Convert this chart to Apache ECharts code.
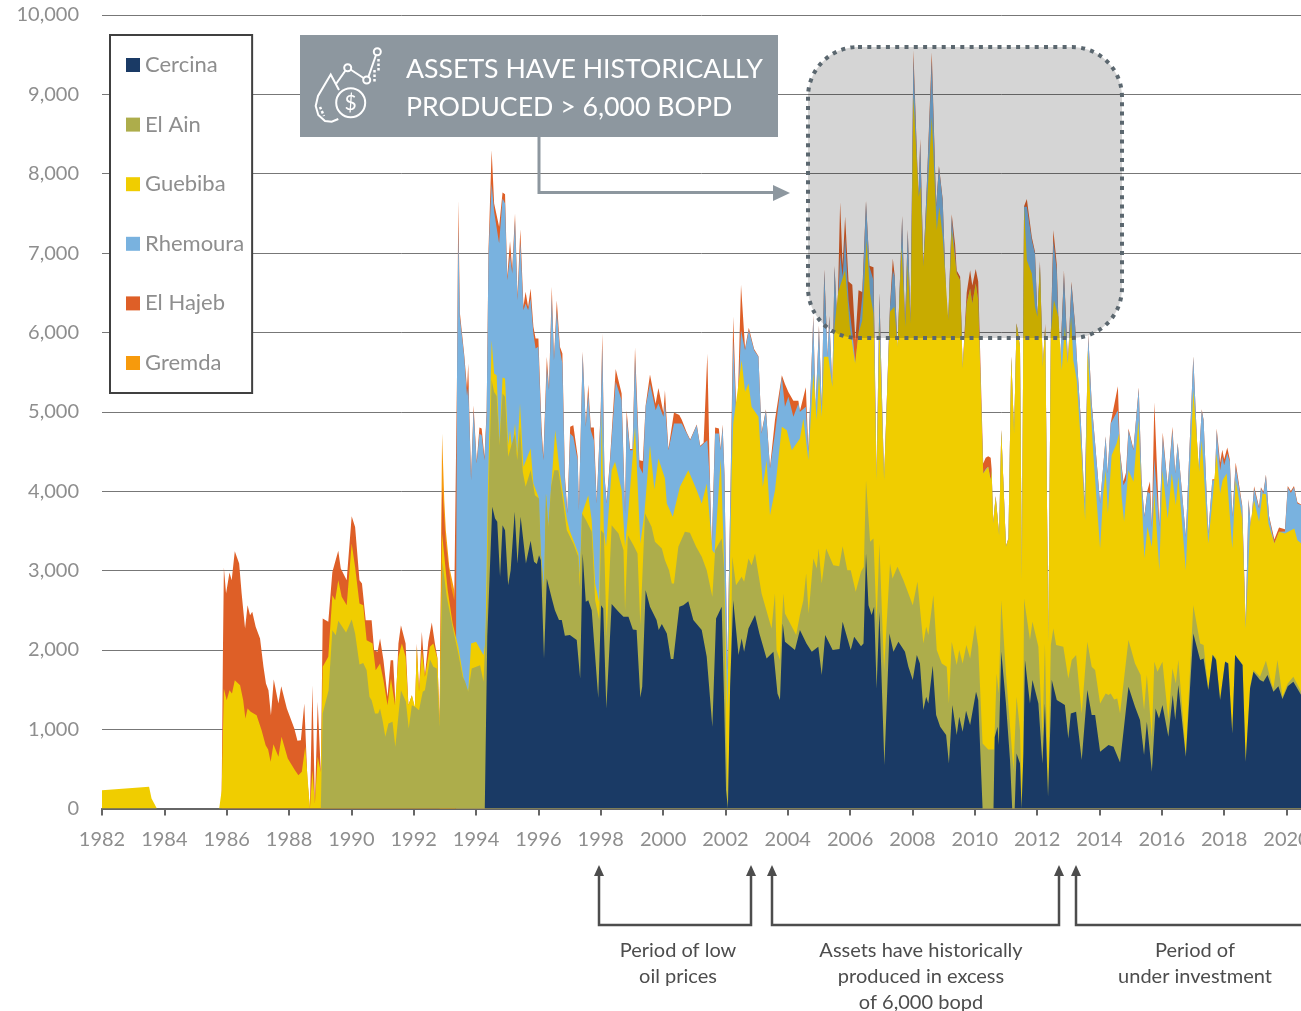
<!DOCTYPE html>
<html lang="en">
<head>
    <meta charset="UTF-8">
    <title>Production history</title>
    <style>
      html, body { margin: 0; padding: 0; background: #fff; }
    </style>
</head>
<body>

    <div id="main" style="width: 1301px; height: 1011px;"></div>
    <script src="https://cdn.jsdelivr.net/npm/echarts@6/dist/echarts.min.js"></script>
    <script>
      const cercinaTop = [[1994.28,0],[1994.36,2164],[1994.52,3802],[1994.61,3655],[1994.68,3613],[1994.77,2920],[1994.85,3571],[1994.93,3508],[1995.03,2815],[1995.11,3004],[1995.24,3739],[1995.33,3088],[1995.43,3676],[1995.6,3088],[1995.75,3374],[1995.86,3109],[1995.95,3080],[1996.02,3193],[1996.08,3130],[1996.18,1891],[1996.27,2899],[1996.43,2647],[1996.53,2500],[1996.66,2374],[1996.75,2374],[1996.85,2177],[1997.01,2185],[1997.23,2122],[1997.34,1639],[1997.42,3214],[1997.52,2605],[1997.6,2626],[1997.71,2500],[1997.92,1395],[1998.01,2563],[1998.08,2521],[1998.18,1261],[1998.35,2576],[1998.57,2479],[1998.73,2416],[1998.89,2416],[1999.03,2256],[1999.15,2248],[1999.27,1400],[1999.33,1534],[1999.44,2752],[1999.58,2542],[1999.79,2374],[1999.86,2248],[1999.96,2324],[2000.12,2206],[2000.25,1883],[2000.33,1883],[2000.52,2542],[2000.65,2563],[2000.81,2613],[2000.97,2374],[2001.24,2248],[2001.4,1912],[2001.58,1030],[2001.7,2395],[2001.88,2542],[2001.96,1324],[2002.02,232],[2002.08,0],[2002.15,1534],[2002.25,2626],[2002.42,1933],[2002.52,2143],[2002.6,1975],[2002.74,2269],[2002.95,2437],[2003.09,2206],[2003.32,1891],[2003.54,1975],[2003.67,1450],[2003.75,1366],[2003.84,2332],[2003.91,2101],[2004.23,1996],[2004.39,2248],[2004.6,2080],[2004.77,1975],[2004.98,2038],[2005.09,1681],[2005.2,2185],[2005.44,1996],[2005.66,2009],[2005.76,2353],[2006.02,1996],[2006.13,2164],[2006.35,2046],[2006.43,2080],[2006.51,3214],[2006.59,2563],[2006.69,2437],[2006.77,2542],[2006.85,1513],[2006.94,2479],[2007.1,547],[2007.26,2206],[2007.39,1975],[2007.55,2101],[2007.76,1975],[2007.87,1786],[2007.92,1786],[2008.01,1618],[2008.14,1933],[2008.24,1828],[2008.35,1240],[2008.44,1408],[2008.51,1324],[2008.65,1799],[2008.76,1177],[2008.89,1030],[2009.08,925],[2009.17,568],[2009.28,1303],[2009.42,925],[2009.5,1156],[2009.61,967],[2009.72,1232],[2009.85,1051],[2010.04,1471],[2010.11,1366],[2010.25,0],[2010.6,0],[2010.64,900],[2010.73,1030],[2010.77,799],[2010.85,1975],[2011.0,1324],[2011.13,610],[2011.2,0],[2011.28,0],[2011.34,694],[2011.45,568],[2011.5,0],[2011.56,694],[2011.61,1870],[2011.77,1324],[2011.85,1618],[2012.04,1324],[2012.17,568],[2012.25,1324],[2012.35,148],[2012.47,1618],[2012.63,1366],[2012.89,1303],[2013.0,883],[2013.08,1198],[2013.25,1219],[2013.43,610],[2013.61,1492],[2013.75,1177],[2013.86,1177],[2014.02,715],[2014.29,799],[2014.45,778],[2014.66,581],[2014.93,1534],[2015.14,1282],[2015.3,1114],[2015.43,673],[2015.52,1093],[2015.68,463],[2015.8,1261],[2015.91,1135],[2016.02,1303],[2016.21,904],[2016.35,1429],[2016.43,1114],[2016.53,1555],[2016.77,652],[2017.01,2206],[2017.23,1870],[2017.34,1891],[2017.49,1492],[2017.63,1933],[2017.74,1870],[2017.87,1366],[2018.03,1849],[2018.13,1828],[2018.26,946],[2018.35,1933],[2018.59,1807],[2018.69,589],[2018.83,1513],[2018.94,1723],[2019.15,1618],[2019.26,1597],[2019.39,1681],[2019.58,1471],[2019.74,1542],[2019.87,1379],[2020.04,1542],[2020.22,1597],[2020.47,1429]];

      const elAinTop = [[1989.02,0],[1989.08,1197],[1989.27,1491],[1989.39,2247],[1989.5,2184],[1989.58,2365],[1989.83,2218],[1990.01,2381],[1990.12,2205],[1990.26,1814],[1990.38,1835],[1990.49,1743],[1990.58,1407],[1990.65,1365],[1990.76,1197],[1990.86,1197],[1990.92,1260],[1991.0,1113],[1991.09,903],[1991.19,1071],[1991.32,1092],[1991.41,777],[1991.59,1491],[1991.75,1344],[1991.84,1008],[1991.94,1302],[1992.04,1281],[1992.17,1239],[1992.29,1470],[1992.36,1491],[1992.52,1881],[1992.63,1785],[1992.74,1764],[1992.83,1029],[1992.92,3108],[1993.06,2667],[1993.27,2247],[1993.43,1953],[1993.57,1659],[1993.65,1596],[1993.75,1470],[1993.86,1764],[1994.13,1806],[1994.24,1596],[1994.34,2542],[1994.39,3802],[1994.5,5400],[1994.58,5250],[1994.66,5200],[1994.75,4579],[1994.85,5230],[1994.93,5190],[1995.03,4432],[1995.12,4560],[1995.25,4726],[1995.32,4390],[1995.41,4810],[1995.5,4240],[1995.59,4054],[1995.75,4264],[1995.89,3949],[1996.02,3907],[1996.08,3214],[1996.18,2752],[1996.24,3970],[1996.32,3550],[1996.41,4054],[1996.51,4264],[1996.64,4264],[1996.8,3844],[1996.91,3508],[1997.12,3340],[1997.28,3172],[1997.33,2794],[1997.4,3718],[1997.53,3634],[1997.71,3487],[1997.82,2626],[1997.95,2374],[1998.01,3508],[1998.1,3466],[1998.19,2164],[1998.35,3571],[1998.57,3466],[1998.73,3256],[1998.78,2500],[1998.87,3445],[1999.05,3319],[1999.18,3214],[1999.27,2311],[1999.42,3718],[1999.63,3550],[1999.74,3361],[1999.96,3277],[2000.06,3130],[2000.19,3004],[2000.28,2836],[2000.35,2836],[2000.49,3298],[2000.7,3487],[2000.86,3474],[2001.06,3298],[2001.24,3172],[2001.4,3004],[2001.58,2668],[2001.67,3256],[2001.88,3403],[2001.96,3004],[2002.02,946],[2002.08,50],[2002.15,1324],[2002.22,3172],[2002.34,2815],[2002.52,2920],[2002.6,2857],[2002.74,3151],[2002.84,3067],[2002.95,3214],[2003.16,2710],[2003.48,2269],[2003.59,2710],[2003.64,1996],[2003.75,1870],[2003.86,2710],[2003.91,2458],[2004.27,2185],[2004.39,2437],[2004.5,2626],[2004.59,2962],[2004.67,2458],[2004.82,3151],[2004.93,3025],[2004.99,3277],[2005.09,2836],[2005.23,3277],[2005.46,3067],[2005.65,3054],[2005.76,3306],[2005.91,3004],[2006.02,3004],[2006.18,2731],[2006.35,2983],[2006.44,3046],[2006.51,4138],[2006.64,3361],[2006.75,3403],[2006.85,2332],[2006.94,3340],[2007.09,1744],[2007.28,3088],[2007.36,2899],[2007.52,3046],[2007.71,2878],[2007.87,2710],[2008.01,2563],[2008.16,2857],[2008.35,2080],[2008.44,2290],[2008.51,2185],[2008.67,2689],[2008.78,1996],[2008.94,1828],[2009.1,1786],[2009.17,1324],[2009.26,2101],[2009.42,1807],[2009.5,1996],[2009.61,1828],[2009.73,2059],[2009.85,1891],[2010.01,2311],[2010.11,2038],[2010.25,820],[2010.43,744],[2010.62,744],[2010.7,1702],[2010.77,1450],[2010.85,2626],[2011.0,1702],[2011.24,484],[2011.34,1408],[2011.45,988],[2011.51,0],[2011.55,800],[2011.58,2647],[2011.77,2122],[2011.85,2353],[2012.04,2038],[2012.17,904],[2012.25,2080],[2012.35,148],[2012.44,2059],[2012.52,2269],[2012.61,2059],[2012.84,2038],[2013.0,1639],[2013.11,1870],[2013.25,1933],[2013.43,1198],[2013.61,2101],[2013.75,1786],[2013.86,1744],[2014.02,1324],[2014.2,1450],[2014.29,1429],[2014.36,1450],[2014.47,1374],[2014.57,1387],[2014.66,1198],[2014.93,2122],[2015.14,1828],[2015.32,1681],[2015.43,1240],[2015.52,1681],[2015.68,904],[2015.76,1849],[2015.86,1723],[2016.02,1849],[2016.21,1114],[2016.34,1765],[2016.45,1576],[2016.53,1870],[2016.77,694],[2017.01,2563],[2017.23,2080],[2017.34,2059],[2017.49,1492],[2017.63,1945],[2017.74,1891],[2017.87,1366],[2018.03,1857],[2018.13,1836],[2018.26,946],[2018.35,1941],[2018.59,1815],[2018.69,589],[2018.83,1534],[2018.94,1744],[2019.15,1660],[2019.34,1862],[2019.52,1576],[2019.58,1513],[2019.71,1870],[2019.87,1408],[2020.04,1576],[2020.22,1660],[2020.47,1471]];

      const guebibaTop = [[1982,230],[1983.51,273],[1983.59,126],[1983.76,0],[1985.76,0],[1985.84,230],[1985.91,1510],[1986,1365],[1986.09,1490],[1986.17,1450],[1986.26,1617],[1986.43,1554],[1986.53,1365],[1986.6,1134],[1986.67,1260],[1986.77,1218],[1986.96,1176],[1987.12,987],[1987.25,798],[1987.33,743],[1987.41,588],[1987.5,810],[1987.66,651],[1987.76,903],[1987.96,630],[1988.19,483],[1988.3,420],[1988.41,462],[1988.52,777],[1988.67,0],[1988.75,483],[1988.83,63],[1988.92,651],[1989.02,460],[1989.08,1785],[1989.26,1911],[1989.39,2688],[1989.48,2625],[1989.58,2877],[1989.69,2667],[1989.85,2562],[1990.01,3339],[1990.12,3045],[1990.26,2583],[1990.38,2562],[1990.49,2121],[1990.58,2100],[1990.68,2079],[1990.78,1743],[1990.92,1827],[1991.03,1617],[1991.16,1302],[1991.27,1638],[1991.4,1302],[1991.51,1911],[1991.62,2079],[1991.74,1911],[1991.83,1302],[1991.94,1428],[1992.04,1281],[1992.1,2037],[1992.17,1470],[1992.26,1995],[1992.36,1659],[1992.52,2037],[1992.63,2079],[1992.76,1890],[1992.83,1071],[1992.91,3466],[1993.09,2752],[1993.25,2331],[1993.43,2037],[1993.6,1638],[1993.75,1470],[1993.84,2079],[1994,2100],[1994.24,1932],[1994.3,2100],[1994.38,4000],[1994.5,5902],[1994.58,5482],[1994.66,5461],[1994.75,4600],[1994.85,5432],[1994.93,5419],[1995.03,4579],[1995.09,4768],[1995.16,4516],[1995.25,4852],[1995.32,4474],[1995.41,5104],[1995.52,4306],[1995.58,4327],[1995.75,4537],[1995.84,4096],[1996,3928],[1996.08,3214],[1996.18,2752],[1996.25,3970],[1996.32,3550],[1996.54,4768],[1996.69,4222],[1996.91,3655],[1997.0,3508],[1997.28,3214],[1997.33,2950],[1997.4,3718],[1997.6,3949],[1997.71,3634],[1997.82,2840],[1997.95,2600],[1998.03,4978],[1998.1,3508],[1998.17,3300],[1998.35,4264],[1998.46,4369],[1998.67,4012],[1998.78,3298],[1998.87,3676],[1999.1,4810],[1999.27,3340],[1999.4,3718],[1999.58,4579],[1999.72,4020],[1999.85,4411],[2000.06,4160],[2000.12,3844],[2000.31,3676],[2000.54,4054],[2000.81,4264],[2001.08,4012],[2001.24,3844],[2001.4,4096],[2001.58,3256],[2001.65,3214],[2001.85,4411],[2001.93,3466],[2002.06,1240],[2002.2,4264],[2002.25,4852],[2002.52,5650],[2002.63,5251],[2002.74,5356],[2002.84,5062],[2003.06,4936],[2003.2,4054],[2003.32,4390],[2003.43,3697],[2003.59,4012],[2003.81,4810],[2003.97,4768],[2004.13,4516],[2004.39,4663],[2004.5,4915],[2004.66,4390],[2004.82,5482],[2004.93,4894],[2005,5482],[2005.09,4936],[2005.16,5692],[2005.3,5692],[2005.43,5314],[2005.5,6070],[2005.62,6511],[2005.84,6784],[2005.99,6070],[2006.16,5608],[2006.27,5986],[2006.39,6154],[2006.53,7162],[2006.64,6490],[2006.75,6238],[2006.85,4138],[2006.94,6112],[2007.09,4138],[2007.28,6259],[2007.42,6322],[2007.52,5818],[2007.65,7078],[2007.77,6070],[2007.85,6868],[2007.94,6112],[2008.03,8968],[2008.2,7708],[2008.26,7834],[2008.35,6826],[2008.46,7582],[2008.62,8716],[2008.78,7288],[2008.86,7582],[2008.97,7204],[2009.15,6154],[2009.26,7288],[2009.42,6742],[2009.53,6658],[2009.61,5545],[2009.74,6364],[2009.85,6553],[2009.92,6364],[2010.03,6616],[2010.11,6406],[2010.27,4222],[2010.43,4306],[2010.51,4138],[2010.54,4264],[2010.59,3592],[2010.67,3928],[2010.78,3445],[2010.85,4768],[2011,3298],[2011.08,3400],[2011.17,5692],[2011.26,4726],[2011.34,6112],[2011.45,5818],[2011.51,2900],[2011.58,7582],[2011.67,6910],[2011.83,6742],[2011.93,6322],[2012.01,6196],[2012.09,6826],[2012.18,5566],[2012.26,6070],[2012.36,2100],[2012.44,5986],[2012.54,6406],[2012.68,6196],[2012.79,5524],[2012.89,6070],[2012.98,5608],[2013.09,6196],[2013.16,5650],[2013.27,5398],[2013.43,4432],[2013.54,3634],[2013.62,5776],[2013.8,4474],[2014.02,3277],[2014.12,3970],[2014.2,4264],[2014.27,3718],[2014.39,4453],[2014.55,4600],[2014.63,4726],[2014.71,3928],[2014.79,3613],[2014.93,4264],[2015.09,4117],[2015.25,4894],[2015.44,3151],[2015.54,3550],[2015.68,3298],[2015.76,3970],[2015.92,3004],[2016.02,4264],[2016.19,3655],[2016.32,4222],[2016.45,3823],[2016.53,4180],[2016.77,3004],[2017.01,5272],[2017.2,4243],[2017.28,4642],[2017.49,3340],[2017.62,3865],[2017.76,4474],[2017.87,3970],[2017.95,4138],[2018.08,4222],[2018.26,3277],[2018.37,4138],[2018.58,3655],[2018.69,2269],[2018.83,3550],[2018.96,3886],[2019.12,3613],[2019.23,3970],[2019.34,3960],[2019.42,3592],[2019.61,3340],[2019.76,3487],[2019.95,3466],[2020.25,3529],[2020.35,3382],[2020.47,3340]];

      // [year, Rhemoura top, El Hajeb top], both bands are read at the same points from 1993 on
      const upperLevels = [[1993.36,2542,2640],[1993.39,5482,5500],[1993.43,7330,7666],[1993.48,6196,6250],[1993.62,5692,5720],[1993.71,5200,5300],[1993.75,5314,5608],[1993.78,4978,5050],[1993.84,4138,4180],[1993.92,5020,5080],[1994.02,4348,4370],[1994.11,4726,4802],[1994.18,4700,4790],[1994.27,4390,4430],[1994.34,4978,5020],[1994.4,6994,7050],[1994.5,7876,8296],[1994.58,7519,7624],[1994.74,7120,7330],[1994.85,7687,7763],[1994.93,7624,7740],[1995,6658,6700],[1995.09,6973,7150],[1995.16,6742,6800],[1995.25,7414,7500],[1995.33,6406,6460],[1995.42,7141,7300],[1995.52,6280,6330],[1995.59,6364,6511],[1995.67,6280,6320],[1995.75,6427,6553],[1995.84,5986,6070],[1995.91,5797,5923],[1996,5818,5923],[1996.1,4726,4810],[1996.16,4390,4430],[1996.27,5566,5692],[1996.34,5272,5300],[1996.43,6448,6574],[1996.5,5650,5670],[1996.59,6280,6406],[1996.69,5776,5818],[1996.77,5608,5734],[1996.85,4138,4200],[1996.93,3718,3740],[1997.02,4726,4810],[1997.12,4684,4830],[1997.26,4390,4440],[1997.3,3760,3780],[1997.42,5734,5760],[1997.52,4810,4830],[1997.6,5230,5340],[1997.68,4768,4800],[1997.78,4642,4800],[1997.87,3844,3860],[1998,5000,5050],[1998.05,5839,5990],[1998.12,4180,4200],[1998.19,3844,3860],[1998.3,4390,4420],[1998.48,5377,5540],[1998.67,5146,5230],[1998.78,3718,3740],[1998.83,4936,5020],[1998.94,4516,4530],[1999.02,4516,4530],[1999.1,5692,5810],[1999.24,4306,4390],[1999.35,4222,4380],[1999.44,5062,5080],[1999.58,5356,5470],[1999.76,5020,5100],[1999.85,5104,5300],[2000.01,4936,4990],[2000.06,5104,5270],[2000.17,4516,4530],[2000.35,4852,4990],[2000.52,4852,4960],[2000.6,4852,4900],[2000.76,4726,4740],[2000.87,4642,4650],[2001.08,4831,4840],[2001.19,4558,4570],[2001.3,4600,4610],[2001.42,4642,5730],[2001.5,4138,4200],[2001.56,3256,3280],[2001.67,4726,4800],[2001.79,4726,4790],[2001.85,4516,4530],[2001.91,4810,4840],[2001.97,4200,4220],[2002.06,1744,1780],[2002.17,4180,4220],[2002.25,5902,6200],[2002.37,4726,4750],[2002.5,6028,6600],[2002.63,5776,5800],[2002.75,6028,6060],[2002.92,5776,5790],[2003.06,5692,5700],[2003.16,4726,4740],[2003.3,5020,5030],[2003.43,4285,4300],[2003.59,4726,4900],[2003.81,5440,5460],[2003.91,5062,5350],[2004.02,5188,5250],[2004.18,4936,5140],[2004.34,5104,5140],[2004.39,5000,5010],[2004.58,5062,5310],[2004.66,4500,4520],[2004.82,6196,6220],[2004.89,5020,5030],[2005,6070,6090],[2005.09,5062,5070],[2005.17,6784,6800],[2005.28,5692,5700],[2005.33,6196,6210],[2005.43,5314,5320],[2005.5,6826,6840],[2005.59,6112,6130],[2005.68,6994,7640],[2005.76,6700,6850],[2005.84,7204,7460],[2005.95,6406,6640],[2006.07,6000,6600],[2006.17,5608,5900],[2006.27,5986,6532],[2006.39,6448,6510],[2006.51,7645,7660],[2006.62,6826,6840],[2006.75,6658,6820],[2006.85,4138,4150],[2006.94,6490,6500],[2007.09,4138,4150],[2007.28,6322,6340],[2007.37,6784,6930],[2007.43,6700,6720],[2007.52,5755,5770],[2007.67,7456,7470],[2007.76,6070,6080],[2007.85,7288,7300],[2007.94,6112,6120],[2008.03,9472,9560],[2008.19,7708,7720],[2008.25,8380,8440],[2008.35,6826,6840],[2008.46,7834,7850],[2008.62,9430,9530],[2008.76,7582,7600],[2008.85,8086,8100],[2008.97,7666,7680],[2009.1,6196,6210],[2009.15,6154,6170],[2009.26,7456,7490],[2009.37,6950,7100],[2009.42,6742,6780],[2009.53,6658,6700],[2009.61,5545,5560],[2009.74,6364,6500],[2009.85,6553,6784],[2009.92,6364,6590],[2010.03,6616,6800],[2010.11,6406,6640],[2010.27,4222,4348],[2010.35,4280,4420],[2010.43,4306,4440],[2010.51,4138,4420],[2010.54,4264,4280],[2010.59,3592,3610],[2010.67,3928,3940],[2010.78,3445,3460],[2010.85,4768,4780],[2011,3298,3310],[2011.08,3400,3410],[2011.17,5692,5700],[2011.26,4726,4740],[2011.34,6112,6120],[2011.45,5818,5830],[2011.51,2900,2910],[2011.58,7582,7590],[2011.67,7582,7680],[2011.83,7162,7200],[2011.93,6994,7020],[2012.01,6196,6210],[2012.09,6868,6900],[2012.18,5566,5580],[2012.26,6070,6110],[2012.36,2100,2110],[2012.44,5986,6000],[2012.52,7162,7290],[2012.63,6784,6860],[2012.73,5524,5540],[2012.86,6742,6780],[2012.99,5608,5620],[2013.1,6616,6640],[2013.22,6070,6090],[2013.27,5700,5710],[2013.4,4900,4910],[2013.52,3844,3850],[2013.64,5965,5980],[2013.75,5104,5120],[2013.86,4600,4610],[2014.02,3844,3850],[2014.2,4684,4690],[2014.26,4222,4230],[2014.36,4852,4860],[2014.59,5020,5320],[2014.66,4474,4500],[2014.77,4075,4120],[2014.85,4138,4230],[2014.93,4768,4790],[2015.09,4516,4530],[2015.26,5293,5310],[2015.35,4138,4150],[2015.44,3676,3690],[2015.54,3991,4010],[2015.62,3970,4120],[2015.68,3550,3560],[2015.76,4411,5120],[2015.92,3550,3560],[2016.03,4684,4740],[2016.19,4054,4060],[2016.34,4768,4810],[2016.43,4222,4230],[2016.51,4600,4610],[2016.77,3424,3430],[2017.01,5692,5700],[2017.17,4264,4270],[2017.28,5020,5030],[2017.34,4894,4900],[2017.49,3466,3470],[2017.62,4138,4150],[2017.7,4138,4150],[2017.76,4768,4790],[2017.87,4264,4360],[2017.94,4432,4520],[2018.0,4327,4400],[2018.1,4474,4550],[2018.18,4369,4400],[2018.26,3676,3690],[2018.37,4306,4360],[2018.58,3802,3820],[2018.69,2300,2310],[2018.78,3886,3900],[2018.86,3550,3560],[2018.96,4033,4060],[2019.12,3781,3800],[2019.18,4033,4050],[2019.26,3970,3990],[2019.34,4201,4210],[2019.44,3676,3690],[2019.61,3340,3390],[2019.76,3487,3540],[2019.95,3490,3520],[2020.04,4046,4065],[2020.14,3978,4000],[2020.24,4046,4065],[2020.35,3844,3860],[2020.47,3823,3830]];

      const elHajebEarly = [[1985.84,230],[1985.88,2000],[1985.91,3037],[1985.98,2709],[1986.09,2974],[1986.16,2877],[1986.26,3242],[1986.4,3087],[1986.48,2709],[1986.59,2268],[1986.67,2562],[1986.75,2436],[1986.82,2478],[1986.93,2289],[1987.07,2142],[1987.18,1785],[1987.26,1575],[1987.34,1491],[1987.42,1176],[1987.51,1625],[1987.66,1323],[1987.75,1541],[1987.93,1260],[1988.17,1008],[1988.27,853],[1988.38,861],[1988.49,1323],[1988.59,357],[1988.67,0],[1988.75,1554],[1988.83,63],[1988.92,1344],[1989.02,441],[1989.08,2394],[1989.26,2352],[1989.39,2982],[1989.45,3066],[1989.58,3247],[1989.66,3024],[1989.85,2877],[1990.01,3683],[1990.12,3549],[1990.26,2877],[1990.34,2835],[1990.46,2373],[1990.65,2373],[1990.73,1995],[1990.84,1974],[1990.92,2142],[1991.03,1869],[1991.16,1407],[1991.26,1869],[1991.34,1869],[1991.42,1281],[1991.51,2079],[1991.59,2310],[1991.74,2079],[1991.83,1302],[1991.94,1428],[1992.04,1240],[1992.1,2079],[1992.17,1491],[1992.26,2226],[1992.36,1680],[1992.47,2100],[1992.58,2344],[1992.68,2079],[1992.76,1900],[1992.83,1071],[1992.91,4054],[1993.03,3340],[1993.2,2794],[1993.3,2626]];

      const gremdaTop = [[1992.83,1071],[1992.91,4726],[1992.98,3886],[1993.03,3508],[1993.14,3046],[1993.3,2752],[1993.34,2542]];

      const rhemouraTop = upperLevels.map(function (row) { return [row[0], row[1]]; });
      const elHajebTop = elHajebEarly.concat(upperLevels.map(function (row) { return [row[0], row[2]]; }));

      const bandNames = ['Cercina', 'El Ain', 'Guebiba', 'Rhemoura', 'El Hajeb', 'Gremda'];
      const bandColors = ['#1a3a65', '#adad4b', '#f0cd00', '#79b2df', '#de5f27', '#f79a0c'];
      const bandTops = [cercinaTop, elAinTop, guebibaTop, rhemouraTop, elHajebTop, gremdaTop];

      const labelFont = 'Lato, sans-serif';
      const labelGrey = '#8e8e8e';
      const noteGrey = '#4d4d4d';
      const boxGrey = '#8d979f';

      var chartDom = document.getElementById('main');
      var myChart = echarts.init(chartDom);

      // top band first, each lower band is painted over it
      var series = bandNames.map(function (name, i) {
        return {
          name: name,
          type: 'line',
          data: bandTops[i],
          symbol: 'none',
          lineStyle: { width: 0 },
          itemStyle: { color: bandColors[i] },
          areaStyle: { color: bandColors[i], opacity: 1 },
          silent: true,
          animation: false
        };
      }).reverse();

      function bracket(x1, x2) {
        var els = [{
          type: 'polyline', z: 100,
          shape: { points: [[x1, 872], [x1, 925], [x2, 925], [x2, 872]] },
          style: { stroke: noteGrey, fill: 'none', lineWidth: 2.5 }
        }];
        [x1, x2].forEach(function (x) {
          els.push({
            type: 'polygon', z: 100,
            shape: { points: [[x, 865], [x - 5, 876], [x + 5, 876]] },
            style: { fill: noteGrey }
          });
        });
        return els;
      }

      function note(lines, cx) {
        return lines.map(function (t, i) {
          return {
            type: 'text', z: 100,
            style: {
              text: t, x: cx, y: 951 + i * 26, fill: noteGrey,
              font: '20px ' + labelFont, textAlign: 'center', textVerticalAlign: 'middle'
            }
          };
        });
      }

      var iconStroke = { stroke: '#fff', fill: 'none', lineWidth: 2 };
      var graphics = [
        {
          type: 'rect', z: 90,
          shape: { x: 808, y: 47, width: 314, height: 291, r: 50 },
          style: { fill: 'rgba(0,0,0,0.165)', stroke: '#5b676f', lineWidth: 4, lineDash: [4, 5.3] }
        },
        {
          type: 'polyline', z: 95,
          shape: { points: [[539, 137], [539, 192.5], [776, 192.5]] },
          style: { stroke: boxGrey, fill: 'none', lineWidth: 3 }
        },
        {
          type: 'polygon', z: 95,
          shape: { points: [[790, 193], [773, 185], [773, 201]] },
          style: { fill: boxGrey }
        },
        {
          type: 'rect', z: 96,
          shape: { x: 300, y: 35, width: 478, height: 102 },
          style: { fill: boxGrey }
        },
        {
          type: 'text', z: 100,
          style: { text: 'ASSETS HAVE HISTORICALLY', x: 406, y: 69, fill: '#fff', font: '26.7px ' + labelFont, textVerticalAlign: 'middle' }
        },
        {
          type: 'text', z: 100,
          style: { text: 'PRODUCED > 6,000 BOPD', x: 406, y: 107, fill: '#fff', font: '26.7px ' + labelFont, textVerticalAlign: 'middle' }
        },
        // drop, coin and small trend line
        {
          type: 'polyline', z: 100,
          shape: { points: [[339, 90], [330.7, 74.5], [318, 96], [315.7, 106], [318.3, 115], [325, 121], [331.7, 121.7], [338.3, 119]] },
          style: iconStroke
        },
        { type: 'circle', z: 100, shape: { cx: 350.7, cy: 102.7, r: 14.5 }, style: iconStroke },
        {
          type: 'text', z: 100,
          style: { text: '$', x: 350.7, y: 103, fill: '#fff', font: '21px ' + labelFont, textAlign: 'center', textVerticalAlign: 'middle' }
        },
        { type: 'polyline', z: 100, shape: { points: [[336, 84], [345.5, 70.5]] }, style: iconStroke },
        { type: 'polyline', z: 100, shape: { points: [[350.5, 69.5], [363.5, 78]] }, style: iconStroke },
        { type: 'polyline', z: 100, shape: { points: [[368.5, 76.5], [376, 55]] }, style: iconStroke },
        { type: 'circle', z: 100, shape: { cx: 347.7, cy: 67.7, r: 3.5 }, style: iconStroke },
        { type: 'circle', z: 100, shape: { cx: 366.7, cy: 80, r: 3.5 }, style: iconStroke },
        { type: 'circle', z: 100, shape: { cx: 377.3, cy: 51.7, r: 3.5 }, style: iconStroke },
        { type: 'polyline', z: 100, shape: { points: [[378.5, 59], [378.5, 72]] }, style: { stroke: '#fff', fill: 'none', lineWidth: 2.5, lineDash: [2.5, 2] } },
        { type: 'polyline', z: 100, shape: { points: [[374.5, 70], [374.5, 82]] }, style: { stroke: '#fff', fill: 'none', lineWidth: 2.5, lineDash: [2.5, 2] } },
        { type: 'polyline', z: 100, shape: { points: [[320, 107], [324, 116]] }, style: { stroke: '#fff', fill: 'none', lineWidth: 2.5, lineDash: [2.5, 2] } }
      ].concat(
        bracket(599, 751),
        bracket(772, 1059),
        [{
          type: 'polyline', z: 100,
          shape: { points: [[1076, 872], [1076, 925], [1301, 925]] },
          style: { stroke: noteGrey, fill: 'none', lineWidth: 2.5 }
        }, {
          type: 'polygon', z: 100,
          shape: { points: [[1076, 865], [1071, 876], [1081, 876]] },
          style: { fill: noteGrey }
        }],
        note(['Period of low', 'oil prices'], 678),
        note(['Assets have historically', 'produced in excess', 'of 6,000 bopd'], 921),
        note(['Period of', 'under investment'], 1195)
      );

      var option = {
        animation: false,
        grid: { left: 102, right: 0, top: 15, height: 793.5, outerBoundsMode: 'none' },
        legend: {
          data: bandNames,
          orient: 'vertical',
          left: 110,
          top: 35,
          icon: 'rect',
          itemWidth: 14,
          itemHeight: 14,
          itemGap: 37.6,
          padding: [19, 8, 19, 16],
          backgroundColor: '#fff',
          borderColor: '#404040',
          borderWidth: 2,
          selectedMode: false,
          textStyle: { color: labelGrey, fontFamily: labelFont, fontSize: 22 }
        },
        xAxis: {
          type: 'value',
          min: 1982,
          max: 2020.465,
          interval: 2,
          splitLine: { show: false },
          axisLine: { lineStyle: { color: '#666', width: 2 } },
          axisTick: { length: 7, lineStyle: { color: '#666', width: 2 } },
          axisLabel: {
            margin: 21, color: labelGrey, fontFamily: labelFont, fontSize: 20,
            showMaxLabel: false,
            formatter: function (v) { return String(v); }
          }
        },
        yAxis: {
          type: 'value',
          min: 0,
          max: 10000,
          interval: 1000,
          axisLine: { show: false },
          axisTick: { show: false },
          splitLine: { lineStyle: { color: '#777', width: 1 } },
          axisLabel: {
            margin: 23, color: labelGrey, fontFamily: labelFont, fontSize: 20,
            formatter: function (v) { return v.toLocaleString('en-US'); }
          }
        },
        series: series,
        graphic: { elements: graphics }
      };

      option && myChart.setOption(option);

    </script>
</body>
</html>
